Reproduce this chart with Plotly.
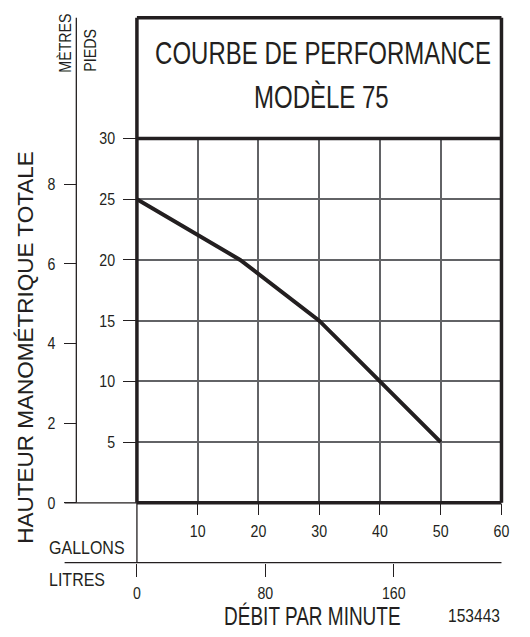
import plotly.graph_objects as go

# ---- data ----
gallons = [0, 17, 30, 40, 50]          # flow, US gal/min
head_ft = [25, 20, 15, 10, 5]          # total dynamic head, feet
gal_ticks = [10, 20, 30, 40, 50, 60]
feet_ticks = [5, 10, 15, 20, 25, 30]
metre_ticks = [0, 2, 4, 6, 8]
litre_ticks = [0, 80, 160]
FT_PER_M = 3.28084
L_PER_GAL = 3.785411784

W, H = 530, 637
INK = "#231f20"
GRID = "#626366"
FONT = "Liberation Sans, Arial"


def px(x):
    return x / W


def py(y):
    return 1 - y / H


X0, X1 = 136, 509
Y0, Y1 = 507.6, 133.8   # pixel rows for 0 ft and 30 ft
TOP = 10

fig = go.Figure()
fig.add_trace(go.Scatter(x=gallons, y=head_ft, mode="lines",
                         line=dict(color=INK, width=4),
                         hoverinfo="skip", showlegend=False))
# invisible companion on the metric axes so they are drawn
fig.add_trace(go.Scatter(x=[g * L_PER_GAL for g in gallons],
                         y=[h / FT_PER_M for h in head_ft],
                         xaxis="x2", yaxis="y2", mode="lines",
                         line=dict(width=0), opacity=0,
                         hoverinfo="skip", showlegend=False))

tickfont = dict(family=FONT, size=14.2, color=INK)

shapes = []
def line(x0, y0, x1, y1, w=1.3):
    shapes.append(dict(type="line", xref="paper", yref="paper",
                       x0=px(x0), y0=py(y0), x1=px(x1), y1=py(y1),
                       line=dict(color=INK, width=w), layer="above"))

# thick frame + title box
line(X0, TOP, X1, TOP, 3.5)
line(X0, TOP, X0, Y0, 3.5)
line(X1, TOP, X1, Y0, 3.5)
line(X0, Y0, X1, Y0, 3.5)
line(X0, Y1, X1, Y1, 3.5)
# metres axis line and zero line on the left
line(74, TOP, 74, Y0)
line(62, Y0, X0, Y0)
# litres row
line(62, 569, X1, 569)
line(X0, Y0, X0, 569)

ann = []
def text(t, x, y, size, angle=0):
    ann.append(dict(text=t, x=px(x), y=py(y), xref="paper", yref="paper",
                    showarrow=False, xanchor="center", yanchor="middle",
                    textangle=angle, font=dict(family=FONT, size=size, color=INK)))

text("COURBE DE PERFORMANCE", 326, 46, 24)
text("MODÈLE 75", 325, 91, 24)
text("MÈTRES", 63, 36, 14.2, angle=-90)
text("PIEDS", 88, 44, 14.3, angle=-90)
text("HAUTEUR MANOMÉTRIQUE TOTALE", 22, 348, 22.5, angle=-90)
text("GALLONS", 85, 553, 16)
text("LITRES", 75, 586, 16)
text("DÉBIT PAR MINUTE", 316, 624, 19)
text("153443", 481, 623, 15.6)

fig.update_layout(
    width=W, height=H,
    margin=dict(l=0, r=0, t=0, b=0),
    paper_bgcolor="white", plot_bgcolor="white",
    showlegend=False,
    xaxis=dict(domain=[px(X0), px(X1)], range=[0, 60], tickvals=gal_ticks,
               ticks="outside", ticklen=11, tickwidth=1.3, tickcolor=INK,
               showgrid=True, gridcolor=GRID, gridwidth=1.5,
               zeroline=False, showline=False, tickfont=tickfont,
               ticklabelstandoff=4, fixedrange=True),
    yaxis=dict(domain=[py(Y0), py(Y1)], range=[0, 30], tickvals=feet_ticks,
               ticks="outside", ticklen=13, tickwidth=1.3, tickcolor=INK,
               showgrid=True, gridcolor=GRID, gridwidth=1.5,
               zeroline=False, showline=False, tickfont=tickfont,
               ticklabelstandoff=5, fixedrange=True),
    yaxis2=dict(overlaying="y", anchor="free", position=px(74), side="left",
                range=[0, 30 / FT_PER_M], tickvals=metre_ticks,
                ticks="outside", ticklen=12, tickwidth=1.3, tickcolor=INK,
                showgrid=False, zeroline=False, showline=False,
                tickfont=tickfont, ticklabelstandoff=6, fixedrange=True),
    xaxis2=dict(overlaying="x", anchor="free", position=py(569), side="bottom",
                range=[0, 60 * L_PER_GAL], tickvals=litre_ticks,
                ticks="outside", ticklen=13, tickwidth=1.3, tickcolor=INK,
                showgrid=False, zeroline=False, showline=False,
                tickfont=tickfont, ticklabelstandoff=4, fixedrange=True),
    shapes=shapes,
    annotations=ann,
)

# condensed lettering as in the original print: same width, taller glyphs,
# done with an SVG scale so every text box stays exact
POST = """
document.body.style.margin='0px';
document.documentElement.style.overflow='hidden';
try {
  var gd = document.getElementById('{plot_id}');
  var big = {'COURBE DE PERFORMANCE':32, 'MODÈLE 75':32,
             'DÉBIT PAR MINUTE':25, 'GALLONS':18, 'LITRES':18,
             'MÈTRES':17, 'PIEDS':17, '153443':18};
  gd.querySelectorAll('text').forEach(function(t){
    var s = t.textContent;
    var ns = big[s];
    if (!ns && /^[0-9]+$/.test(s) && t.closest('g[class*="tick"]')) ns = 17;
    if (!ns) return;
    var oldFont = t.style.fontSize;
    var oldY = t.getAttribute('y');
    var oldTr = t.getAttribute('transform');
    try {
      var os = parseFloat(getComputedStyle(t).fontSize);
      var w = t.getComputedTextLength();
      t.style.fontSize = ns + 'px';
      var w2 = t.getComputedTextLength();
      var k = w / w2;
      if (!isFinite(k) || k < 0.5 || k > 1.05) throw 'bad';
      var x = parseFloat(t.getAttribute('x') || '0');
      var y = parseFloat(oldY || '0');
      t.setAttribute('y', y + 0.358 * (ns - os));
      t.setAttribute('transform', (oldTr ? oldTr + ' ' : '') +
        'translate(' + (x * (1 - k)) + ',0) scale(' + k + ',1)');
    } catch (e) {
      t.style.fontSize = oldFont;
      if (oldY !== null) t.setAttribute('y', oldY);
      if (oldTr !== null) t.setAttribute('transform', oldTr); else t.removeAttribute('transform');
    }
  });
} catch (e) {}
"""

fig.write_html("out.html", config={"displayModeBar": False, "responsive": False},
               post_script=POST)
